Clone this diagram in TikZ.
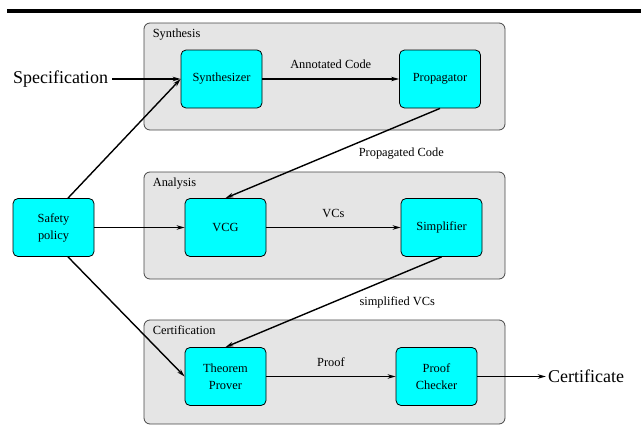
\documentclass[tikz,border=0pt]{standalone}
\usepackage{fontspec}
\setmainfont{Liberation Serif}
\usetikzlibrary{arrows.meta, positioning, calc}
\definecolor{GroupGray}{RGB}{229,229,229}
\definecolor{GroupLine}{RGB}{70,70,70}
\definecolor{ProcCyan}{RGB}{0,255,255}

\begin{document}
\begin{tikzpicture}[x=1pt, y=-1pt,
  group/.style={draw=GroupLine, fill=GroupGray, rounded corners=6pt, line width=0.8pt,
                minimum width=361pt, minimum height=107pt, inner sep=0pt},
  title/.style={anchor=north west, inner sep=0pt, font=\fontsize{12.4}{15}\selectfont},
  proc/.style={draw=black, fill=ProcCyan, rounded corners=5pt, line width=0.8pt,
               minimum width=81pt, minimum height=58pt, inner sep=2pt, align=center,
               font=\fontsize{12.4}{17}\selectfont},
  big/.style={font=\fontsize{18}{20}\selectfont},
  lbl/.style={font=\fontsize{12.4}{15}\selectfont},
  arrow/.style={-{Stealth[length=8pt,width=4.5pt]}, line width=1.4pt},
]
  \useasboundingbox (0,0) rectangle (641,426);
  \draw[line width=4pt] (7,11) -- (641,11);

  % groups
  \node[group] (synthbox) at (324.5,76.5) {};
  \node[group] (anabox) at (324.5,225.5) {};
  \node[group, minimum height=104pt] (certbox) at (324.5,372) {};
  \node[title] at ($(synthbox.north west)+(9,6)$) {Synthesis};
  \node[title] at ($(anabox.north west)+(9,6)$) {Analysis};
  \node[title] at ($(certbox.north west)+(9,6)$) {Certification};

  % components
  \node[proc] (synth) at (221.5,79) {Synthesizer};
  \node[proc] (prop) at (440,79) {Propagator};
  \node[proc] (vcg) at (225.5,227.5) {VCG};
  \node[proc] (simp) at (441.5,227.5) {Simplifier};
  \node[proc] (safety) at (53.5,227.5) {Safety\\policy};
  \node[proc] (prover) at (225.5,376.5) {Theorem\\Prover};
  \node[proc] (checker) at (436.5,376.5) {Proof\\Checker};
  \node[big, inner sep=4pt] (spec) at (60.5,79) {Specification};
  \node[big, inner sep=2pt] (cert) at (586,376.5) {Certificate};

  \draw[arrow] (spec) -- (synth);
  \draw[arrow] (synth) -- node[lbl, above=6pt] {Annotated Code} (prop);
  \draw[arrow] (prop.south) -- node[lbl, right=22pt] {Propagated Code} (vcg.north);
  \draw[arrow] (vcg) -- node[lbl, above=6pt] {VCs} (simp);
  \draw[arrow] (simp.south) -- node[lbl, right=22pt] {simplified VCs} (prover.north);
  \draw[arrow] (prover) -- node[lbl, above=6pt] {Proof} (checker);
  \draw[arrow] (checker) -- (cert);
  \draw[arrow] ([xshift=14.5pt]safety.north) -- (synth.west);
  \draw[arrow] (safety) -- (vcg);
  \draw[arrow] ([xshift=14.5pt]safety.south) -- (prover.west);
\end{tikzpicture}
\end{document}
